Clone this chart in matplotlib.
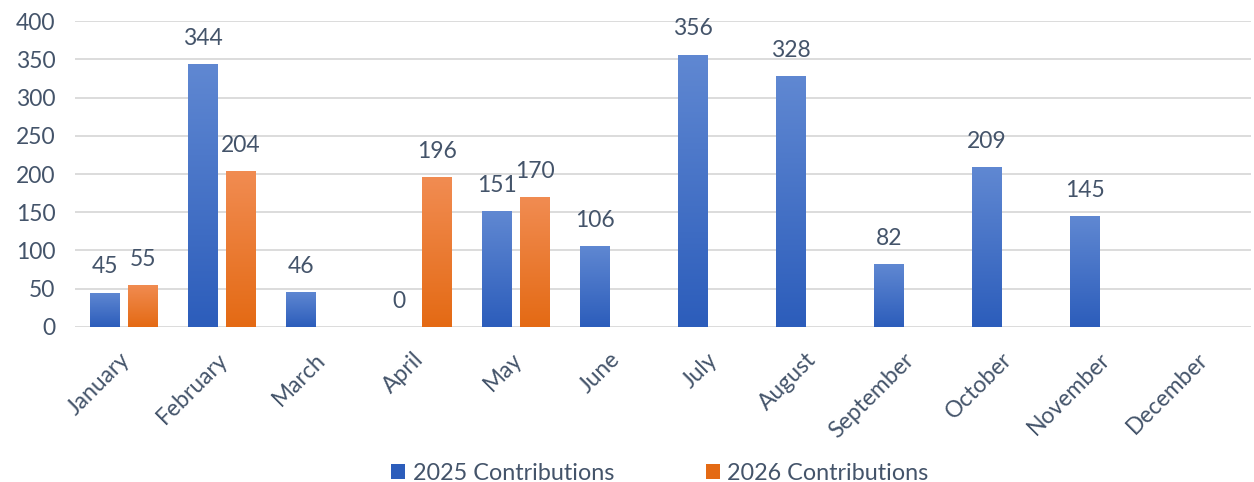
import numpy as np
import matplotlib
matplotlib.use("Agg")
import matplotlib.pyplot as plt
from matplotlib.colors import LinearSegmentedColormap
from matplotlib.patches import Patch
from matplotlib.transforms import ScaledTranslation

plt.rcParams['font.family'] = ['Lato', 'DejaVu Sans']

months = ["January", "February", "March", "April", "May", "June", "July",
          "August", "September", "October", "November", "December"]
contrib_2025 = [45, 344, 46, 0, 151, 106, 356, 328, 82, 209, 145, None]
contrib_2026 = [55, 204, None, 196, 170, None, None, None, None, None, None, None]
series_names = ["2025 Contributions", "2026 Contributions"]

text_color = "#44546A"
blue_top, blue_bot = "#6088D2", "#2C5DBB"
orange_top, orange_bot = "#F18C52", "#E46A14"
FS = 16.5

fig = plt.figure(figsize=(12.54, 4.82), dpi=100)
ax = fig.add_axes([0.0598, 0.3216, 0.9378, 0.6348])

x = np.arange(len(months))
width = 0.306
offset = 0.194

def grad_bars(xpos, vals, ctop, cbot):
    cmap = LinearSegmentedColormap.from_list("g", [cbot, ctop])
    grad = np.linspace(0, 1, 256).reshape(-1, 1)
    for xi, v in zip(xpos, vals):
        if v is None:
            continue
        bar = ax.bar(xi, v, width=width, color="none", edgecolor="none", zorder=3)[0]
        if v > 0:
            im = ax.imshow(grad, cmap=cmap, aspect="auto", origin="lower",
                           extent=[xi - width / 2, xi + width / 2, 0, v], zorder=3)
            im.set_clip_path(bar)
        ax.annotate(f"{v}", (xi, v), xytext=(0, 11), textcoords="offset points",
                    ha="center", va="bottom", fontsize=FS, color=text_color, zorder=4)

grad_bars(x - offset, contrib_2025, blue_top, blue_bot)
grad_bars(x + offset, contrib_2026, orange_top, orange_bot)

ax.set_xlim(-0.5, len(months) - 0.5)
ax.set_ylim(0, 400)
ax.set_yticks(np.arange(0, 401, 50))
ax.set_xticks(x)
ax.set_xticklabels(months, rotation=45, ha="right", va="top", rotation_mode="anchor")
ax.tick_params(axis="both", length=0, labelsize=FS, labelcolor=text_color)
ax.tick_params(axis="y", pad=14)
ax.tick_params(axis="x", pad=10)
shift = ScaledTranslation(-5 / 100, -8 / 100, fig.dpi_scale_trans)
for lbl in ax.get_xticklabels():
    lbl.set_transform(lbl.get_transform() + shift)
for s in ax.spines.values():
    s.set_visible(False)
ax.grid(axis="y", color="#D9D9D9", linewidth=1.3, zorder=0)
ax.set_axisbelow(True)

handles = [Patch(facecolor=blue_bot, edgecolor="none"),
           Patch(facecolor=orange_bot, edgecolor="none")]
fig.legend(handles, series_names, loc="center", bbox_to_anchor=(660 / 1254, 1 - 473 / 482),
           ncol=2, frameon=False, fontsize=16.8, labelcolor=text_color,
           handlelength=0.6, handleheight=0.6, handletextpad=0.34, columnspacing=3.9,
           borderpad=0, borderaxespad=0)

fig.savefig("out.png", dpi=100)
